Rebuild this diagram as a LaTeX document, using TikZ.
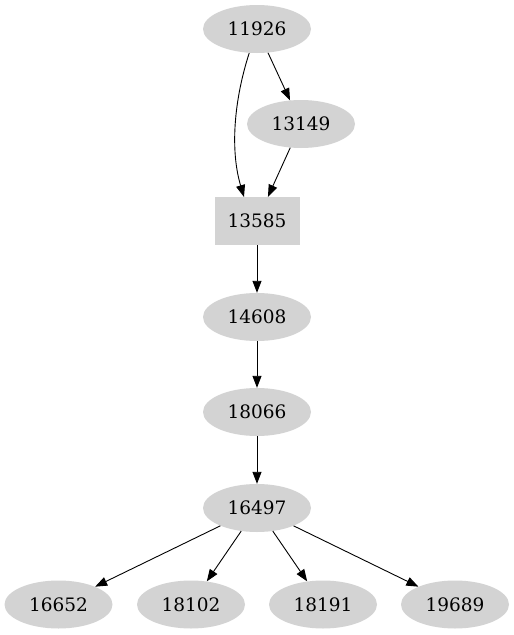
\documentclass[tikz,border=0pt]{standalone}
\usepackage{fontspec}
\setmainfont{DejaVu Serif}
\usetikzlibrary{arrows.meta,shapes.geometric}
\definecolor{gvgray}{HTML}{D3D3D3}
\begin{document}
\begin{tikzpicture}[x=1pt,y=-1pt,
  el/.style={ellipse,fill=gvgray,draw=none,minimum width=108pt,minimum height=48pt,inner sep=0pt,font=\fontsize{18.5pt}{20pt}\selectfont},
  bx/.style={rectangle,fill=gvgray,draw=none,minimum width=85pt,minimum height=48pt,inner sep=0pt,font=\fontsize{18.5pt}{20pt}\selectfont},
  edge/.style={draw=black,line width=0.9pt,-{Triangle[length=12pt,width=9pt]}}]
\useasboundingbox (0,0) rectangle (514,635);
\node[el] (n11926) at (257,29) {11926};
\node[el] (n13149) at (301,124) {13149};
\node[bx] (n13585) at (257,221) {13585};
\node[el] (n14608) at (257,317) {14608};
\node[el] (n18066) at (257,412) {18066};
\node[el] (n16497) at (257,508) {16497};
\node[el] (n16652) at (58.5,604.5) {16652};
\node[el] (n18102) at (191,604.5) {18102};
\node[el] (n18191) at (323,604.5) {18191};
\node[el] (n19689) at (455,604.5) {19689};
\coordinate (c13585in) at (244,197);
\draw[edge] (n11926) .. controls (234,100) and (230,150) .. (c13585in);
\draw[edge] (n11926) -- (n13149);
\draw[edge] (n13149) -- (n13585);
\draw[edge] (n13585) -- (n14608);
\draw[edge] (n14608) -- (n18066);
\draw[edge] (n18066) -- (n16497);
\draw[edge] (n16497) -- (n16652);
\draw[edge] (n16497) -- (n18102);
\draw[edge] (n16497) -- (n18191);
\draw[edge] (n16497) -- (n19689);
\end{tikzpicture}
\end{document}
